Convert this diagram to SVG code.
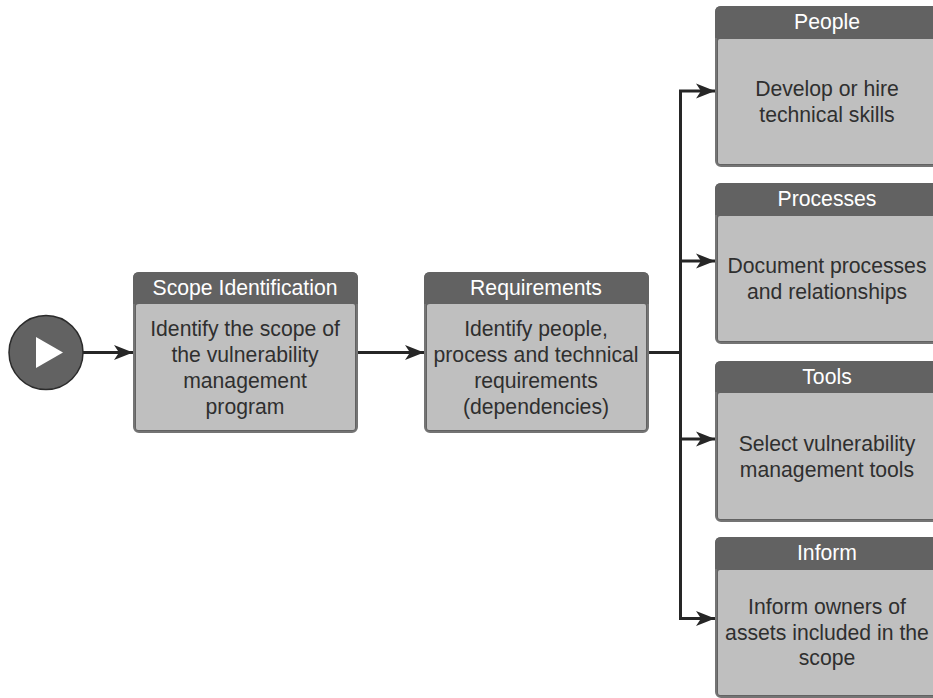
<svg xmlns="http://www.w3.org/2000/svg" width="933" height="698" viewBox="0 0 933 698">
<style>
text{font-family:"Liberation Sans",Arial,sans-serif;font-size:21.2px;text-anchor:middle}
.o{fill:#626262;stroke:#747474;stroke-width:2}
.h{fill:none;stroke:#626262;stroke-width:2}
.b{fill:#bfbfbf}
.t{fill:#fff}
.d{fill:#2f2f2f}
.c{fill:none;stroke:#262626;stroke-width:3}
</style>
<defs>
<marker id="a" markerUnits="userSpaceOnUse" markerWidth="20" markerHeight="16" refX="19" refY="8" orient="auto"><path d="M0 0.5L19 8L0 15.5L5 8Z" fill="#262626"/></marker>
</defs>
<g id="connectors">
<path class="c" d="M83 352.5H133" marker-end="url(#a)"/>
<path class="c" d="M358 352.5H424" marker-end="url(#a)"/>
<path class="c" d="M648 352.5H680"/>
<path class="c" d="M680.5 352V91H715" marker-end="url(#a)"/>
<path class="c" d="M680.5 352V618.5H715" marker-end="url(#a)"/>
<path class="c" d="M680 261H715" marker-end="url(#a)"/>
<path class="c" d="M680 439H715" marker-end="url(#a)"/>
</g>
<g id="start"><circle cx="46" cy="352.5" r="37" fill="#626262" stroke="#2b2b2b" stroke-width="1.5"/><path d="M36 337L63 352.5L36 368Z" fill="#fff"/></g>
<g id="scope"><rect class="o" x="134" y="273" width="223" height="159" rx="5"/><path class="h" d="M134 304V278Q134 273 139 273H352Q357 273 357 278V304"/><path class="b" d="M139 304H353Q355 304 355 306V428Q355 430 353 430H138Q136 430 136 428V306Q136 304 139 304Z"/><text class="t" x="245" y="295">Scope Identification</text><text class="d" x="245" y="336">Identify the scope of</text><text class="d" x="245" y="362">the vulnerability</text><text class="d" x="245" y="388">management</text><text class="d" x="245" y="414">program</text></g>
<g id="requirements"><rect class="o" x="425" y="273" width="223" height="159" rx="5"/><path class="h" d="M425 304V278Q425 273 430 273H643Q648 273 648 278V304"/><path class="b" d="M430 304H644Q646 304 646 306V428Q646 430 644 430H429Q427 430 427 428V306Q427 304 430 304Z"/><text class="t" x="536" y="295">Requirements</text><text class="d" x="536" y="336">Identify people,</text><text class="d" x="536" y="362">process and technical</text><text class="d" x="536" y="388">requirements</text><text class="d" x="536" y="414">(dependencies)</text></g>
<g id="people"><rect class="o" x="716" y="7" width="222" height="159" rx="5"/><path class="h" d="M716 38V12Q716 7 721 7H938"/><path class="b" d="M720 39H940V164H720Q718 164 718 162V41Q718 39 720 39Z"/><text class="t" x="827" y="29">People</text><text class="d" x="827" y="96">Develop or hire</text><text class="d" x="827" y="122">technical skills</text></g>
<g id="processes"><rect class="o" x="716" y="184" width="222" height="159" rx="5"/><path class="h" d="M716 215V189Q716 184 721 184H938"/><path class="b" d="M720 216H940V341H720Q718 341 718 339V218Q718 216 720 216Z"/><text class="t" x="827" y="206">Processes</text><text class="d" x="827" y="273">Document processes</text><text class="d" x="827" y="299">and relationships</text></g>
<g id="tools"><rect class="o" x="716" y="362" width="222" height="159" rx="5"/><path class="h" d="M716 392V367Q716 362 721 362H938"/><path class="b" d="M720 393H940V519H720Q718 519 718 517V395Q718 393 720 393Z"/><text class="t" x="827" y="384">Tools</text><text class="d" x="827" y="451">Select vulnerability</text><text class="d" x="827" y="477">management tools</text></g>
<g id="inform"><rect class="o" x="716" y="538" width="222" height="159" rx="5"/><path class="h" d="M716 569V543Q716 538 721 538H938"/><path class="b" d="M720 570H940V695H720Q718 695 718 693V572Q718 570 720 570Z"/><text class="t" x="827" y="560">Inform</text><text class="d" x="827" y="614">Inform owners of</text><text class="d" x="827" y="640">assets included in the</text><text class="d" x="827" y="665">scope</text></g>
</svg>
